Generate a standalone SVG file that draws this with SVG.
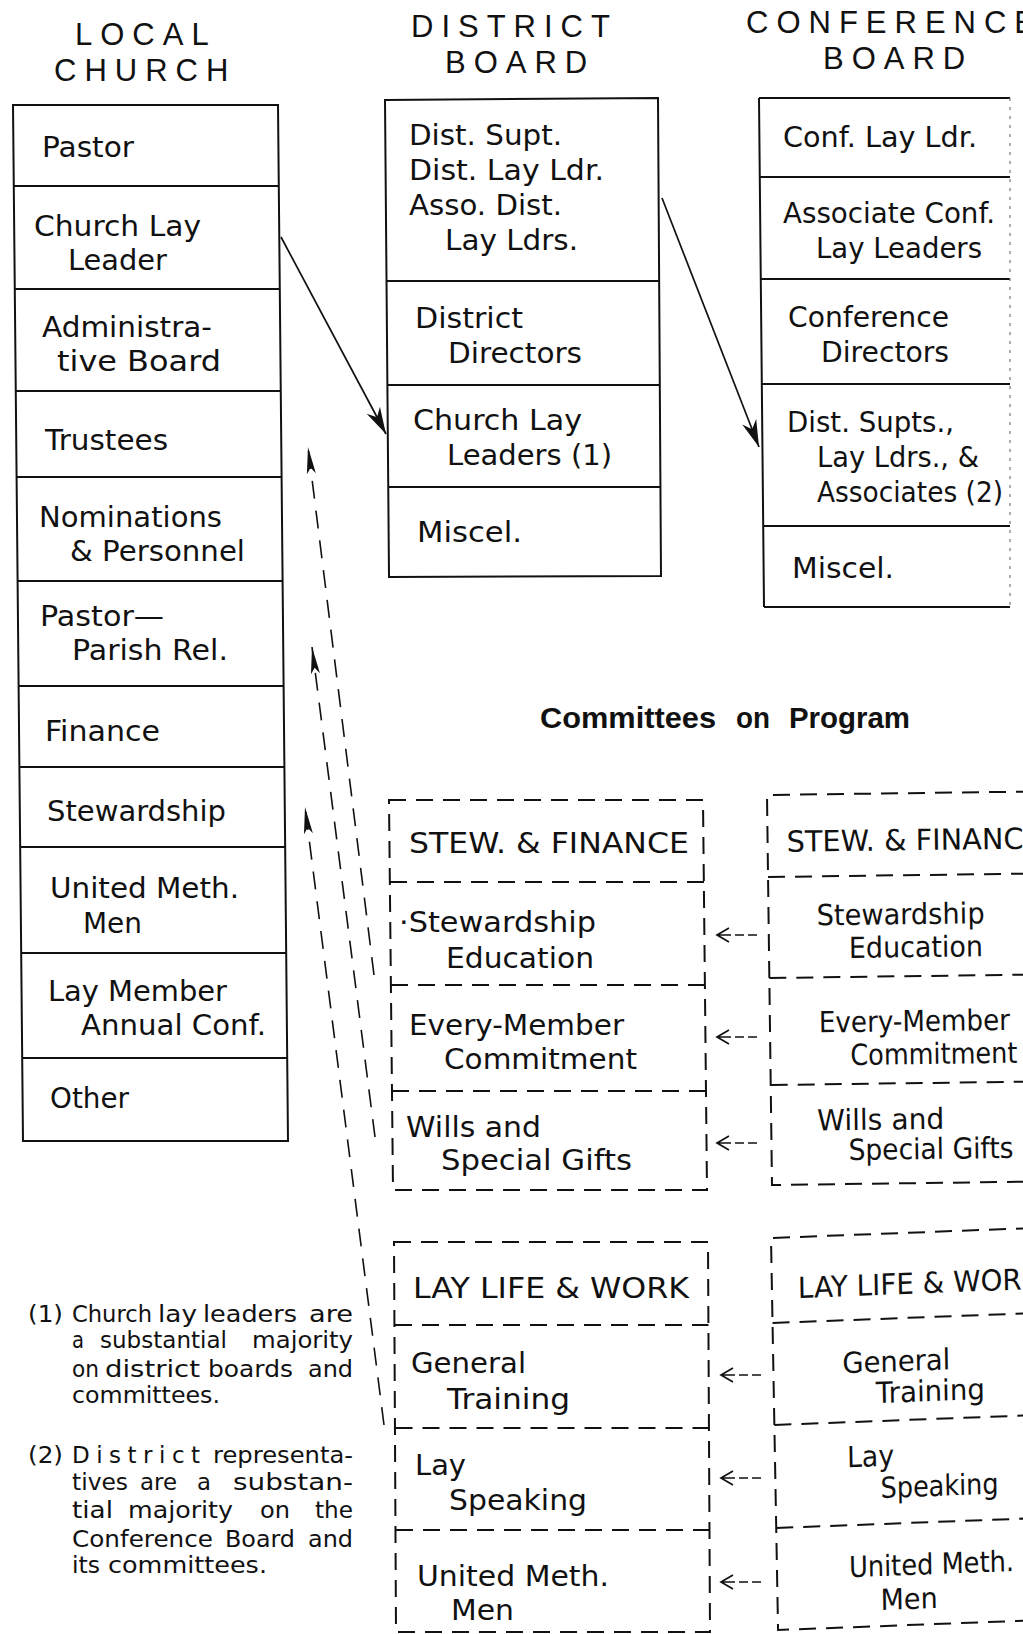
<svg xmlns="http://www.w3.org/2000/svg" width="1023" height="1634" viewBox="0 0 1023 1634">
<style>
text{font-family:"DejaVu Sans","Liberation Sans",sans-serif;fill:#111}
.b{font-size:29px}
.h{font-family:"Liberation Sans",Arial,sans-serif;font-size:31px;letter-spacing:8px}
.fn{font-size:23px}
.cp{font-family:"Liberation Sans",Arial,sans-serif;font-weight:bold;font-size:29px}
.box{fill:none;stroke:#111;stroke-width:2}
.dbox{fill:none;stroke:#111;stroke-width:2;stroke-dasharray:17 10}
.conn{fill:none;stroke:#111;stroke-width:1.7}
.dconn{fill:none;stroke:#111;stroke-width:1.6;stroke-dasharray:18 12}
.sarr{fill:none;stroke:#111;stroke-width:1.7}
.dot{fill:none;stroke:#777;stroke-width:1.2;stroke-dasharray:3 6}
</style>
<defs>
<marker id="ah" markerUnits="userSpaceOnUse" viewBox="-30 -10 32 20" refX="0" refY="0" markerWidth="32" markerHeight="20" orient="auto">
<path d="M0,0 L-27,-7.5 L-19,0 L-27,7.5 Z" fill="#111"/>
</marker>
<marker id="ahn" markerUnits="userSpaceOnUse" viewBox="-30 -7 32 14" refX="0" refY="0" markerWidth="32" markerHeight="14" orient="auto">
<path d="M0,0 L-27,-4.5 L-21,0 L-27,4.5 Z" fill="#111"/>
</marker>
</defs>
<rect width="1023" height="1634" fill="#fff"/>

<g id="headers">
<text class="h" x="75" y="45">LOCAL</text>
<text class="h" x="54" y="81">CHURCH</text>
<text class="h" x="411" y="37">DISTRICT</text>
<text class="h" x="445" y="73">BOARD</text>
<text class="h" x="746" y="33">CONFERENCE</text>
<text class="h" x="823" y="69">BOARD</text>
</g>

<g id="local-church">
<polygon class="box" points="13,105 278,105 288,1141 23,1141"/>
<path class="box" d="M13.8,186H278.8 M14.8,289H279.8 M15.8,391H280.8 M16.6,477H281.6 M17.6,581H282.6 M18.6,686H283.6 M19.4,767H284.4 M20.2,847H285.2 M21.2,953H286.2 M22.2,1058H287.2"/>
<text class="b" x="42" y="157" textLength="92" lengthAdjust="spacingAndGlyphs">Pastor</text>
<text class="b" x="34" y="236" textLength="167" lengthAdjust="spacingAndGlyphs">Church Lay</text>
<text class="b" x="68" y="270" textLength="99" lengthAdjust="spacingAndGlyphs">Leader</text>
<text class="b" x="42" y="337" textLength="170" lengthAdjust="spacingAndGlyphs">Administra-</text>
<text class="b" x="57" y="371" textLength="164" lengthAdjust="spacingAndGlyphs">tive Board</text>
<text class="b" x="45" y="450" textLength="123" lengthAdjust="spacingAndGlyphs">Trustees</text>
<text class="b" x="39" y="527" textLength="183" lengthAdjust="spacingAndGlyphs">Nominations</text>
<text class="b" x="70" y="561" textLength="175" lengthAdjust="spacingAndGlyphs">&amp; Personnel</text>
<text class="b" x="40" y="626" textLength="124" lengthAdjust="spacingAndGlyphs">Pastor—</text>
<text class="b" x="72" y="660" textLength="156" lengthAdjust="spacingAndGlyphs">Parish Rel.</text>
<text class="b" x="45" y="741" textLength="115" lengthAdjust="spacingAndGlyphs">Finance</text>
<text class="b" x="47" y="821" textLength="179" lengthAdjust="spacingAndGlyphs">Stewardship</text>
<text class="b" x="50" y="898" textLength="189" lengthAdjust="spacingAndGlyphs">United Meth.</text>
<text class="b" x="83" y="933" textLength="59" lengthAdjust="spacingAndGlyphs">Men</text>
<text class="b" x="48" y="1001" textLength="179" lengthAdjust="spacingAndGlyphs">Lay Member</text>
<text class="b" x="81" y="1035" textLength="185" lengthAdjust="spacingAndGlyphs">Annual Conf.</text>
<text class="b" x="50" y="1108" textLength="79" lengthAdjust="spacingAndGlyphs">Other</text>
</g>

<g id="district-board">
<polygon class="box" points="385,100 658,98 661,576 389,577"/>
<path class="box" d="M386.5,281H659.1 M387.4,385H659.8 M388.3,487H660.4"/>
<text class="b" x="409" y="145" textLength="153" lengthAdjust="spacingAndGlyphs">Dist. Supt.</text>
<text class="b" x="409" y="180" textLength="195" lengthAdjust="spacingAndGlyphs">Dist. Lay Ldr.</text>
<text class="b" x="409" y="215" textLength="153" lengthAdjust="spacingAndGlyphs">Asso. Dist.</text>
<text class="b" x="445" y="250" textLength="133" lengthAdjust="spacingAndGlyphs">Lay Ldrs.</text>
<text class="b" x="415" y="328" textLength="108" lengthAdjust="spacingAndGlyphs">District</text>
<text class="b" x="448" y="363" textLength="134" lengthAdjust="spacingAndGlyphs">Directors</text>
<text class="b" x="413" y="430" textLength="169" lengthAdjust="spacingAndGlyphs">Church Lay</text>
<text class="b" x="447" y="465" textLength="165" lengthAdjust="spacingAndGlyphs">Leaders (1)</text>
<text class="b" x="417" y="542" textLength="105" lengthAdjust="spacingAndGlyphs">Miscel.</text>
</g>

<g id="conference-board">
<path class="box" d="M759,98 L764,607 M759,98H1010 M759.8,177H1010 M760.8,279H1010 M761.8,384H1010 M763.2,526H1010 M764,607H1010"/>
<path class="dot" d="M1010,98V607"/>
<text class="b" x="783" y="147" textLength="194" lengthAdjust="spacingAndGlyphs">Conf. Lay Ldr.</text>
<text class="b" x="783" y="223" textLength="212" lengthAdjust="spacingAndGlyphs">Associate Conf.</text>
<text class="b" x="816" y="258" textLength="166" lengthAdjust="spacingAndGlyphs">Lay Leaders</text>
<text class="b" x="788" y="327" textLength="161" lengthAdjust="spacingAndGlyphs">Conference</text>
<text class="b" x="821" y="362" textLength="128" lengthAdjust="spacingAndGlyphs">Directors</text>
<text class="b" x="787" y="432" textLength="167" lengthAdjust="spacingAndGlyphs">Dist. Supts.,</text>
<text class="b" x="817" y="467" textLength="162" lengthAdjust="spacingAndGlyphs">Lay Ldrs., &amp;</text>
<text class="b" x="817" y="502" textLength="186" lengthAdjust="spacingAndGlyphs">Associates (2)</text>
<text class="b" x="792" y="578" textLength="102" lengthAdjust="spacingAndGlyphs">Miscel.</text>
</g>

<g id="title-committees">
<text class="cp" x="540" y="728" textLength="176" lengthAdjust="spacingAndGlyphs">Committees</text>
<text class="cp" x="736" y="728" textLength="34" lengthAdjust="spacingAndGlyphs">on</text>
<text class="cp" x="789" y="728" textLength="121" lengthAdjust="spacingAndGlyphs">Program</text>
</g>

<g id="district-stew-finance">
<path class="dbox" d="M389,800 H703 L707,1190 H393 Z"/>
<path class="dbox" d="M390,882H704 M391,985H705 M392,1091H706"/>
<text class="b" x="409" y="853" textLength="280" lengthAdjust="spacingAndGlyphs">STEW. &amp; FINANCE</text>
<text class="b" x="399" y="932" textLength="197" lengthAdjust="spacingAndGlyphs">·Stewardship</text>
<text class="b" x="446" y="968" textLength="148" lengthAdjust="spacingAndGlyphs">Education</text>
<text class="b" x="409" y="1035" textLength="215" lengthAdjust="spacingAndGlyphs">Every-Member</text>
<text class="b" x="444" y="1069" textLength="193" lengthAdjust="spacingAndGlyphs">Commitment</text>
<text class="b" x="406" y="1137" textLength="135" lengthAdjust="spacingAndGlyphs">Wills and</text>
<text class="b" x="441" y="1170" textLength="191" lengthAdjust="spacingAndGlyphs">Special Gifts</text>
</g>

<g id="conference-stew-finance" transform="matrix(1 -0.013 0.0128 1 -10.18 9.97)">
<path class="dbox" d="M1060,795 H767 V1185 H1060"/>
<path class="dbox" d="M767,877H1060 M767,978H1060 M767,1085H1060"/>
<text class="b" x="786" y="852" textLength="255" lengthAdjust="spacingAndGlyphs">STEW. &amp; FINANCE</text>
<text class="b" x="815" y="926" textLength="168" lengthAdjust="spacingAndGlyphs">Stewardship</text>
<text class="b" x="847" y="959" textLength="134" lengthAdjust="spacingAndGlyphs">Education</text>
<text class="b" x="816" y="1033" textLength="191" lengthAdjust="spacingAndGlyphs">Every-Member</text>
<text class="b" x="847" y="1066" textLength="167" lengthAdjust="spacingAndGlyphs">Commitment</text>
<text class="b" x="813" y="1131" textLength="127" lengthAdjust="spacingAndGlyphs">Wills and</text>
<text class="b" x="844" y="1161" textLength="165" lengthAdjust="spacingAndGlyphs">Special Gifts</text>
</g>

<g id="district-lay-life">
<path class="dbox" d="M394,1242 H708 L710,1632 H396 Z"/>
<path class="dbox" d="M395,1325H708.5 M395.5,1428H709 M396,1530H709.5"/>
<text class="b" x="413" y="1298" textLength="276" lengthAdjust="spacingAndGlyphs">LAY LIFE &amp; WORK</text>
<text class="b" x="411" y="1373" textLength="115" lengthAdjust="spacingAndGlyphs">General</text>
<text class="b" x="447" y="1409" textLength="123" lengthAdjust="spacingAndGlyphs">Training</text>
<text class="b" x="415" y="1475" textLength="51" lengthAdjust="spacingAndGlyphs">Lay</text>
<text class="b" x="449" y="1510" textLength="138" lengthAdjust="spacingAndGlyphs">Speaking</text>
<text class="b" x="417" y="1586" textLength="192" lengthAdjust="spacingAndGlyphs">United Meth.</text>
<text class="b" x="451" y="1620" textLength="63" lengthAdjust="spacingAndGlyphs">Men</text>
</g>

<g id="conference-lay-life" transform="matrix(1 -0.038 0.018 1 -22.28 29.3)">
<path class="dbox" d="M1060,1238 H771 V1630 H1060"/>
<path class="dbox" d="M771,1323H1060 M771,1425H1060 M771,1528H1060"/>
<text class="b" x="797" y="1299" textLength="242" lengthAdjust="spacingAndGlyphs">LAY LIFE &amp; WORK</text>
<text class="b" x="840" y="1376" textLength="108" lengthAdjust="spacingAndGlyphs">General</text>
<text class="b" x="873" y="1407" textLength="109" lengthAdjust="spacingAndGlyphs">Training</text>
<text class="b" x="843" y="1470" textLength="47" lengthAdjust="spacingAndGlyphs">Lay</text>
<text class="b" x="876" y="1502" textLength="118" lengthAdjust="spacingAndGlyphs">Speaking</text>
<text class="b" x="843" y="1580" textLength="165" lengthAdjust="spacingAndGlyphs">United Meth.</text>
<text class="b" x="874" y="1614" textLength="57" lengthAdjust="spacingAndGlyphs">Men</text>
</g>

<g id="connectors">
<line class="conn" x1="281" y1="237" x2="386" y2="434" marker-end="url(#ah)"/>
<line class="conn" x1="662" y1="198" x2="759" y2="447" marker-end="url(#ah)"/>
<line class="dconn" x1="374" y1="975" x2="308" y2="447" marker-end="url(#ahn)"/>
<line class="dconn" x1="375" y1="1137" x2="312" y2="647" marker-end="url(#ahn)"/>
<line class="dconn" x1="384" y1="1425" x2="305" y2="807" marker-end="url(#ahn)"/>
<path class="sarr" d="M729,928 L717,935 L729,942 M717,935H731 M735,935H744 M748,935H757"/>
<path class="sarr" d="M729,1030 L717,1037 L729,1044 M717,1037H731 M735,1037H744 M748,1037H757"/>
<path class="sarr" d="M729,1136 L717,1143 L729,1150 M717,1143H731 M735,1143H744 M748,1143H757"/>
<path class="sarr" d="M733,1368 L721,1375 L733,1382 M721,1375H735 M739,1375H748 M752,1375H761"/>
<path class="sarr" d="M733,1471 L721,1478 L733,1485 M721,1478H735 M739,1478H748 M752,1478H761"/>
<path class="sarr" d="M733,1575 L721,1582 L733,1589 M721,1582H735 M739,1582H748 M752,1582H761"/>
</g>

<g id="footnotes">
<text class="fn" x="28" y="1322" textLength="35" lengthAdjust="spacingAndGlyphs">(1)</text>
<text class="fn" y="1322"><tspan x="72" textLength="80" lengthAdjust="spacingAndGlyphs">Church</tspan><tspan x="158" textLength="39" lengthAdjust="spacingAndGlyphs">lay</tspan><tspan x="203" textLength="94" lengthAdjust="spacingAndGlyphs">leaders</tspan><tspan x="309" textLength="44" lengthAdjust="spacingAndGlyphs">are</tspan></text>
<text class="fn" y="1348"><tspan x="72" textLength="12" lengthAdjust="spacingAndGlyphs">a</tspan><tspan x="100" textLength="127" lengthAdjust="spacingAndGlyphs">substantial</tspan><tspan x="252" textLength="101" lengthAdjust="spacingAndGlyphs">majority</tspan></text>
<text class="fn" y="1377"><tspan x="72" textLength="27" lengthAdjust="spacingAndGlyphs">on</tspan><tspan x="105" textLength="95" lengthAdjust="spacingAndGlyphs">district</tspan><tspan x="208" textLength="85" lengthAdjust="spacingAndGlyphs">boards</tspan><tspan x="308" textLength="45" lengthAdjust="spacingAndGlyphs">and</tspan></text>
<text class="fn" x="72" y="1403" textLength="148" lengthAdjust="spacingAndGlyphs">committees.</text>
<text class="fn" x="28" y="1463" textLength="35" lengthAdjust="spacingAndGlyphs">(2)</text>
<text class="fn" x="72" y="1463" style="letter-spacing:6.5px">District</text>
<text class="fn" x="213" y="1463" textLength="140" lengthAdjust="spacingAndGlyphs">representa-</text>
<text class="fn" y="1490"><tspan x="72" textLength="56" lengthAdjust="spacingAndGlyphs">tives</tspan><tspan x="140" textLength="37" lengthAdjust="spacingAndGlyphs">are</tspan><tspan x="197" textLength="14" lengthAdjust="spacingAndGlyphs">a</tspan><tspan x="233" textLength="120" lengthAdjust="spacingAndGlyphs">substan-</tspan></text>
<text class="fn" y="1518"><tspan x="72" textLength="41" lengthAdjust="spacingAndGlyphs">tial</tspan><tspan x="128" textLength="105" lengthAdjust="spacingAndGlyphs">majority</tspan><tspan x="260" textLength="30" lengthAdjust="spacingAndGlyphs">on</tspan><tspan x="315" textLength="38" lengthAdjust="spacingAndGlyphs">the</tspan></text>
<text class="fn" y="1547"><tspan x="72" textLength="141" lengthAdjust="spacingAndGlyphs">Conference</tspan><tspan x="225" textLength="70" lengthAdjust="spacingAndGlyphs">Board</tspan><tspan x="308" textLength="45" lengthAdjust="spacingAndGlyphs">and</tspan></text>
<text class="fn" y="1573"><tspan x="72" textLength="28" lengthAdjust="spacingAndGlyphs">its</tspan><tspan x="108" textLength="159" lengthAdjust="spacingAndGlyphs">committees.</tspan></text>
</g>
</svg>
